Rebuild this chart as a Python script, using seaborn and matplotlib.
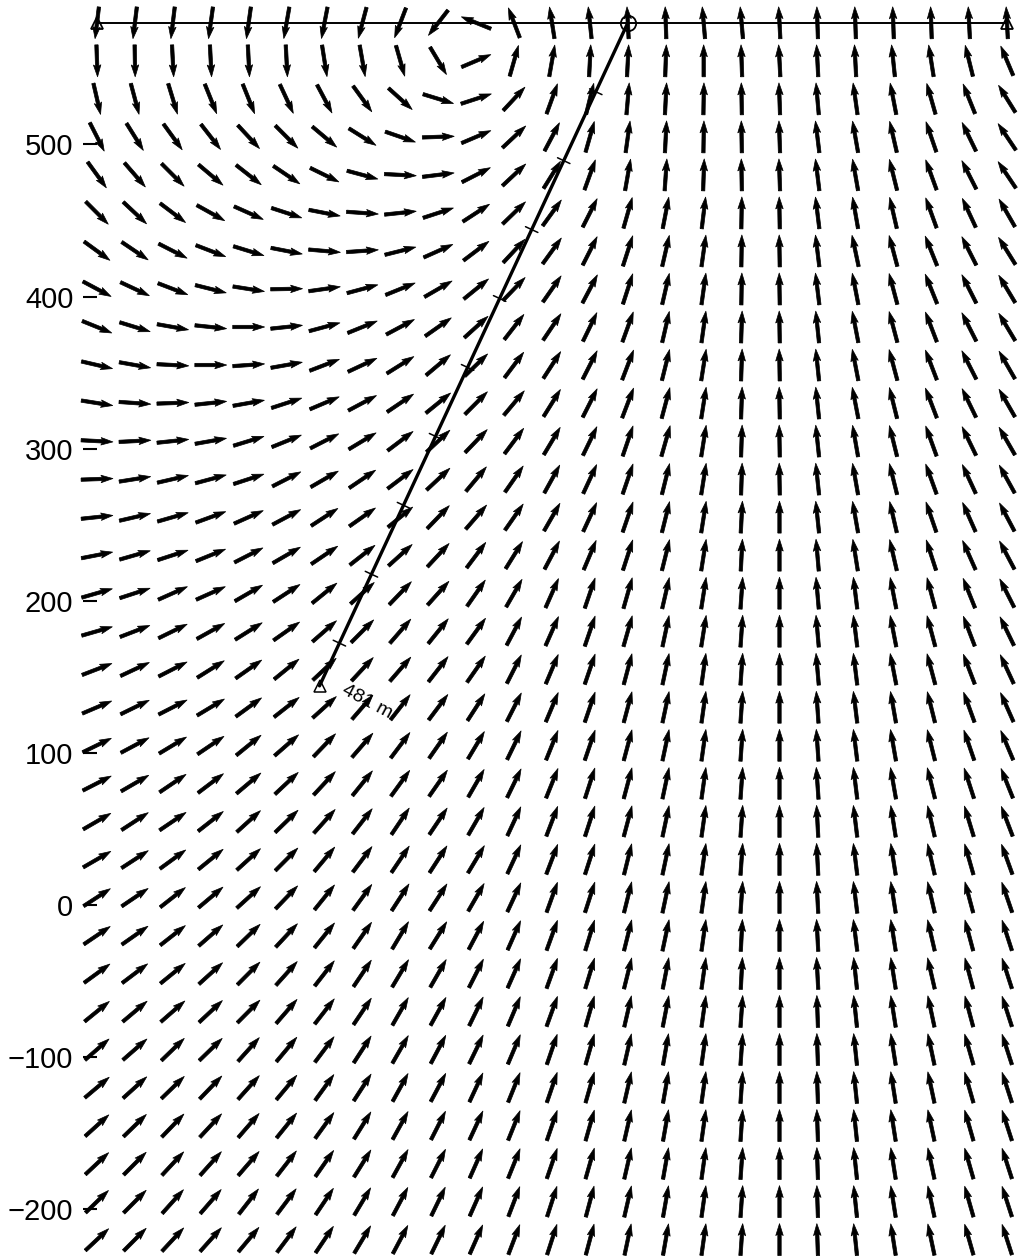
import numpy as np
import pandas as pd
import matplotlib
matplotlib.use("Agg")
import matplotlib.pyplot as plt
import seaborn as sns

# Grid of stations (m): easting columns and elevation rows
x_cols = [-350, -325, -300, -275, -250, -225, -200, -175, -150, -125, -100, -75, -50,
          -25, 0, 25, 50, 75, 100, 125, 150, 175, 200, 225, 250]
y_rows = [580, 555, 530, 505, 480, 455, 430, 405, 380, 355, 330, 305, 280, 255, 230,
          205, 180, 155, 130, 105, 80, 55, 30, 5, -20, -45, -70, -95, -120, -145,
          -170, -195, -220]

# Field direction at each station, degrees counter-clockwise from +x, one list per row
dir_y580 = [-97, -97, -97, -98, -98, -100, -101, -105, -111, -128, 158, 111, 99, 96, 93, 92, 95, 95, 93, 92, 92, 92, 92, 93, 93]
dir_y555 = [-88, -89, -87, -87, -87, -87, -81, -80, -74, -59, 23, 74, 80, 87, 87, 88, 90, 92, 93, 93, 93, 96, 99, 104, 113]
dir_y530 = [-77, -75, -73, -68, -68, -65, -62, -54, -42, -17, 18, 47, 70, 76, 85, 87, 89, 91, 92, 95, 98, 101, 106, 112, 122]
dir_y505 = [-63, -58, -54, -52, -47, -45, -40, -32, -19, 2, 23, 43, 62, 74, 82, 87, 89, 91, 92, 97, 100, 103, 109, 116, 124]
dir_y480 = [-54, -49, -45, -40, -38, -34, -26, -15, -3, 7, 27, 43, 58, 70, 80, 86, 88, 91, 92, 97, 100, 104, 110, 117, 124]
dir_y455 = [-45, -43, -37, -29, -24, -18, -11, -4, 6, 18, 33, 44, 54, 63, 74, 79, 83, 89, 91, 97, 100, 103, 110, 115, 120]
dir_y430 = [-36, -34, -27, -21, -17, -11, -5, 4, 14, 24, 37, 47, 54, 63, 72, 77, 82, 89, 91, 97, 102, 105, 112, 117, 122]
dir_y405 = [-28, -25, -21, -14, -9, 1, 8, 15, 22, 30, 39, 46, 55, 62, 72, 77, 82, 89, 91, 97, 101, 105, 112, 117, 121]
dir_y380 = [-22, -17, -10, -6, 0, 6, 15, 22, 28, 35, 42, 52, 56, 64, 70, 77, 82, 88, 91, 96, 101, 105, 111, 117, 121]
dir_y355 = [-13, -10, -3, 0, 4, 10, 21, 25, 32, 40, 44, 53, 57, 63, 69, 76, 81, 88, 91, 96, 101, 105, 111, 117, 120]
dir_y330 = [-9, -4, 2, 6, 10, 18, 23, 28, 34, 39, 45, 50, 58, 63, 69, 75, 81, 88, 91, 96, 101, 104, 111, 116, 120]
dir_y305 = [-3, 3, 6, 10, 17, 22, 27, 31, 37, 43, 46, 53, 59, 64, 71, 74, 81, 88, 91, 96, 100, 104, 110, 116, 120]
dir_y280 = [2, 9, 13, 15, 18, 27, 30, 34, 37, 43, 50, 55, 61, 65, 71, 76, 81, 88, 91, 96, 100, 104, 110, 115, 119]
dir_y255 = [6, 13, 16, 20, 24, 28, 33, 35, 39, 46, 49, 55, 60, 65, 71, 76, 81, 87, 90, 96, 100, 103, 109, 114, 118]
dir_y230 = [11, 16, 18, 22, 27, 30, 34, 38, 42, 47, 53, 58, 62, 67, 72, 76, 81, 87, 90, 95, 99, 103, 108, 114, 118]
dir_y205 = [16, 18, 24, 24, 30, 33, 39, 42, 46, 48, 55, 60, 66, 71, 74, 77, 81, 86, 90, 95, 97, 101, 105, 112, 117]
dir_y180 = [16, 21, 26, 29, 32, 35, 41, 45, 49, 51, 54, 62, 66, 71, 74, 78, 81, 86, 90, 95, 97, 101, 105, 111, 116]
dir_y155 = [21, 25, 27, 32, 35, 39, 43, 47, 49, 52, 55, 63, 67, 71, 75, 78, 82, 86, 90, 95, 97, 101, 105, 111, 115]
dir_y130 = [23, 26, 27, 31, 36, 38, 42, 49, 52, 53, 57, 63, 67, 71, 75, 78, 82, 86, 90, 94, 97, 100, 104, 110, 114]
dir_y105 = [26, 28, 31, 34, 39, 41, 46, 49, 53, 55, 59, 64, 68, 71, 75, 78, 82, 86, 90, 94, 97, 100, 104, 109, 113]
dir_y80 = [27, 30, 34, 37, 40, 43, 47, 51, 54, 55, 60, 64, 68, 72, 75, 78, 82, 86, 90, 94, 97, 100, 104, 108, 112]
dir_y55 = [30, 33, 34, 38, 42, 44, 48, 52, 56, 56, 60, 65, 69, 72, 75, 78, 82, 86, 90, 93, 97, 99, 103, 107, 111]
dir_y30 = [30, 33, 36, 39, 42, 45, 50, 53, 56, 57, 59, 65, 69, 72, 76, 78, 82, 86, 90, 93, 97, 99, 103, 106, 110]
dir_y5 = [33, 34, 38, 40, 42, 46, 51, 54, 57, 57, 60, 65, 70, 72, 76, 78, 82, 86, 90, 93, 97, 99, 103, 105, 109]
dir_ym20 = [34, 35, 38, 41, 44, 47, 51, 55, 59, 58, 62, 66, 70, 73, 76, 78, 82, 87, 90, 93, 97, 99, 103, 105, 108]
dir_ym45 = [36, 37, 39, 42, 45, 48, 52, 56, 59, 60, 63, 66, 70, 73, 76, 79, 82, 87, 90, 93, 96, 99, 103, 105, 108]
dir_ym70 = [39, 40, 41, 43, 45, 49, 52, 56, 60, 61, 64, 67, 70, 74, 77, 79, 82, 86, 90, 92, 96, 99, 102, 105, 108]
dir_ym95 = [41, 41, 44, 44, 48, 50, 53, 57, 60, 62, 64, 67, 71, 74, 77, 80, 82, 86, 90, 92, 96, 99, 102, 106, 108]
dir_ym120 = [40, 42, 44, 46, 48, 50, 54, 57, 61, 62, 65, 68, 71, 74, 77, 80, 82, 86, 90, 92, 96, 99, 102, 106, 108]
dir_ym145 = [42, 44, 46, 47, 49, 51, 54, 58, 61, 63, 65, 68, 71, 74, 77, 80, 82, 86, 90, 92, 96, 99, 102, 106, 108]
dir_ym170 = [43, 45, 47, 48, 49, 52, 55, 58, 61, 63, 66, 68, 71, 74, 77, 80, 82, 86, 90, 92, 96, 99, 102, 106, 108]
dir_ym195 = [44, 45, 48, 49, 52, 53, 56, 59, 62, 64, 66, 69, 72, 75, 77, 80, 82, 86, 90, 92, 96, 99, 102, 106, 108]
dir_ym220 = [43, 45, 47, 48, 50, 53, 56, 59, 62, 64, 66, 69, 72, 75, 78, 80, 82, 86, 90, 92, 96, 99, 102, 106, 108]

field_rows = [dir_y580, dir_y555, dir_y530, dir_y505, dir_y480, dir_y455, dir_y430,
              dir_y405, dir_y380, dir_y355, dir_y330, dir_y305, dir_y280, dir_y255,
              dir_y230, dir_y205, dir_y180, dir_y155, dir_y130, dir_y105, dir_y80,
              dir_y55, dir_y30, dir_y5, dir_ym20, dir_ym45, dir_ym70, dir_ym95,
              dir_ym120, dir_ym145, dir_ym170, dir_ym195, dir_ym220]

# Surface profile and borehole
surface_level = 580
wellhead_x = 0
well_length = 481          # m along hole
well_inclination = 25.0    # degrees from vertical, dipping towards -x
station_step = 50          # m between depth marks
y_ticks = [-200, -100, 0, 100, 200, 300, 400, 500]

# ---------------------------------------------------------------------------
sns.set_theme(style="white")
plt.rcParams["font.family"] = ["Liberation Sans", "DejaVu Sans"]

W, H = 1019, 1260
fig = plt.figure(figsize=(W / 100, H / 100), dpi=100)
ax = fig.add_axes([97 / W, 1 - 1239.6 / H, 910 / W, 1216.8 / H])
ax.set_xlim(x_cols[0], x_cols[-1])
ax.set_ylim(y_rows[-1], y_rows[0])

# Direction field (arrows of equal length)
X, Y = np.meshgrid(x_cols, y_rows)
ang = np.deg2rad(np.array(field_rows, dtype=float))
arrow_len = 21.0
U = arrow_len * np.cos(ang)
V = arrow_len * np.sin(ang)
q = ax.quiver(X, Y, U, V, angles="xy", scale_units="xy", scale=1, pivot="mid",
              units="dots", width=3.4, headwidth=2.2, headlength=3.5,
              headaxislength=3.1, color="black", edgecolor="black", linewidth=0.5,
              zorder=2)
q.set_clip_on(False)

# Ground surface with profile ends and wellhead
surf = pd.DataFrame({"x": [x_cols[0], x_cols[-1]], "y": [surface_level, surface_level]})
sns.lineplot(data=surf, x="x", y="y", ax=ax, color="black", linewidth=1.4,
             sort=False, zorder=3, clip_on=False)
ax.plot([x_cols[0], x_cols[-1]], [surface_level, surface_level], linestyle="none",
        marker="^", markersize=9, markerfacecolor="none", markeredgecolor="black",
        markeredgewidth=1.3, clip_on=False, zorder=4)
ax.plot([wellhead_x], [surface_level], linestyle="none", marker="o", markersize=11,
        markerfacecolor="none", markeredgecolor="black", markeredgewidth=1.3,
        clip_on=False, zorder=4)

# Borehole trace
inc = np.deg2rad(well_inclination)
direction = np.array([-np.sin(inc), -np.cos(inc)])
normal = np.array([np.cos(inc), -np.sin(inc)])
top = np.array([wellhead_x, surface_level], dtype=float)
bottom = top + well_length * direction
trace = pd.DataFrame({"x": [top[0], bottom[0]], "y": [top[1], bottom[1]]})
sns.lineplot(data=trace, x="x", y="y", ax=ax, color="black", linewidth=2.4,
             sort=False, zorder=5)

for md in range(station_step, well_length, station_step):
    p = top + md * direction
    a = p - 4.5 * normal
    b = p + 4.5 * normal
    ax.plot([a[0], b[0]], [a[1], b[1]], color="black", linewidth=1.1, zorder=5)

ax.plot([bottom[0]], [bottom[1]], linestyle="none", marker="^", markersize=8,
        markerfacecolor="none", markeredgecolor="black", markeredgewidth=1.1, zorder=5)
ax.annotate(f"{well_length} m", xy=(bottom[0], bottom[1]), xytext=(17, -2),
            textcoords="offset points", rotation=-28, rotation_mode="anchor",
            ha="left", va="center", fontsize=14, color="black", zorder=6)

# Axes decoration: only the elevation ticks on the left
for s in ax.spines.values():
    s.set_visible(False)
ax.set_xticks([])
ax.set_yticks(y_ticks)
ax.set_yticklabels([f"{t}".replace("-", "\u2212") for t in y_ticks])
ax.tick_params(axis="y", left=True, direction="out", length=10, width=1.5,
               pad=7, labelsize=21, colors="black")
ax.set_xlabel("")
ax.set_ylabel("")
ax.grid(False)
ax.set_facecolor("white")

fig.savefig("out.png", dpi=100, facecolor="white")
